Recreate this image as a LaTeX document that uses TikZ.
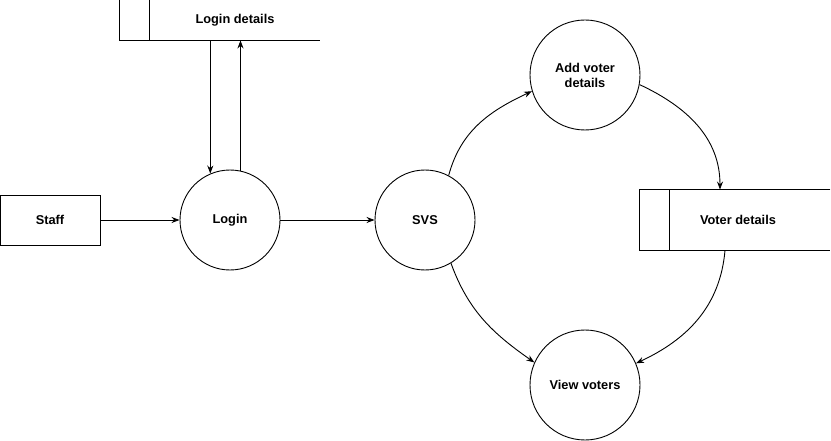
\documentclass[tikz,border=0pt]{standalone}
\usepackage{fontspec}
\setmainfont{Liberation Sans}
\usetikzlibrary{arrows.meta}
\newcommand{\procsize}{100pt}

\begin{document}
\begin{tikzpicture}[x=1pt,y=-1pt,line width=0.9pt,font=\fontsize{12.8}{15}\selectfont\bfseries]
            \useasboundingbox (0,0) rectangle (831,441);
            \begin{scope}[every node/.style={circle,draw,minimum size=\procsize,inner sep=0pt,align=center}]
                \node (login) at (230,220) {Login};
                \node (svs) at (425,220) {SVS};
                \node[minimum size=110pt] (addv) at (585,75) {Add voter\\details};
                \node[minimum size=110pt] (viewv) at (585,385) {View voters};
            \end{scope}

            \node[draw,minimum width=100pt,minimum height=50pt] (staff) at (50,220) {Staff};

            % data stores, open on the right
            \node[minimum width=170pt,minimum height=40pt] (ldet) at (235,20) {Login details};
            \draw (ldet.north east) -- (ldet.north west) -- (ldet.south west) -- (ldet.south east);
            \draw (ldet.north west) -- ++(-30,0) |- (ldet.south west);
            \node[minimum width=160pt,minimum height=60pt] (vdet) at (750,220) {Voter details\hspace*{24pt}};
            \draw (vdet.north east) -- (vdet.north west) -- (vdet.south west) -- (vdet.south east);
            \draw (vdet.north west) -- ++(-30,0) |- (vdet.south west);

            \begin{scope}[>={Stealth[black,length=8pt,width=6pt]},
                every edge/.style={draw=black,line width=0.9pt}]
                \path [->] (staff) edge node {} (login);
                \path [->] (login) edge node {} (svs);
                \path [->] (ldet.south -| login.113.6) edge node {} (login.113.6);
                \path [->] (login.78.5) edge node {} (ldet.south -| login.78.5);
                \path [->] (svs.62) edge [out=75,in=205] node {} (addv.197);
                \path [->] (addv.-10) edge [out=-25,in=90] node {} ([xshift=-30pt]vdet.north);
                \path [->] ([xshift=-25pt]vdet.south) edge [out=-95,in=25] node {} (viewv.23);
                \path [->] (svs.-59) edge [out=-70,in=145] node {} (viewv.156);
            \end{scope}
            \end{tikzpicture}
\end{document}
